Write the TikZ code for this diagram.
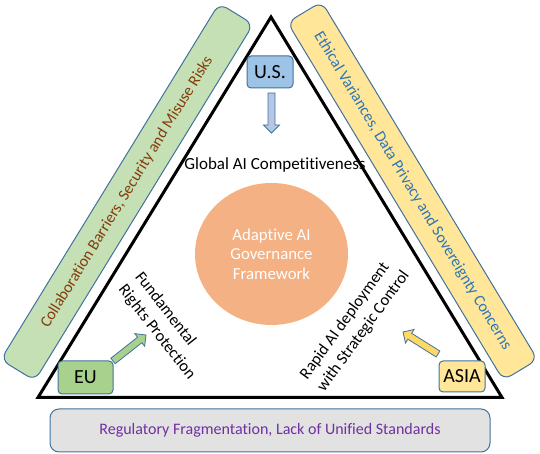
\documentclass[tikz,border=0pt]{standalone}
\usepackage{fontspec}
\setmainfont{Carlito}[Ligatures={NoCommon}]
\usetikzlibrary{calc,shapes.geometric}
\definecolor{bord}{HTML}{41719C}
\definecolor{gfill}{HTML}{C5E0B4}
\definecolor{yfill}{HTML}{FFE699}
\definecolor{grfill}{HTML}{E2E2E2}
\definecolor{gtext}{HTML}{843C0C}
\definecolor{ytext}{HTML}{2E75B6}
\definecolor{ptext}{HTML}{7030A0}
\definecolor{usfill}{HTML}{9DC3E6}
\definecolor{usarrow}{HTML}{B4C7E7}
\definecolor{eufill}{HTML}{A9D18E}
\definecolor{asfill}{HTML}{FFE699}
\definecolor{asarrow}{HTML}{FFD966}
\definecolor{orangefill}{HTML}{F4B183}
\newcommand\blockarrow[3]{%
  \coordinate (ba-c) at ($(#3)!8pt!(#2)$);
  \draw[barrow,fill=#1] ($(#2)!3.5pt!90:(#3)$) -- ($(ba-c)!3.5pt!90:(#3)$)
    -- ($(ba-c)!8pt!90:(#3)$) -- (#3) -- ($(ba-c)!8pt!-90:(#3)$)
    -- ($(ba-c)!3.5pt!-90:(#3)$) -- ($(#2)!3.5pt!-90:(#3)$) -- cycle;}
\begin{document}
\begin{tikzpicture}[x=1pt,y=1pt,
  band/.style={draw=bord, line width=1pt, rounded corners=9pt, minimum width=418pt,
    minimum height=40pt, inner sep=0pt, font=\fontsize{16}{19}\selectfont},
  box/.style={draw=bord, line width=1pt, rounded corners=4pt, inner sep=0pt,
    font=\fontsize{20}{24}\selectfont},
  lbl/.style={font=\fontsize{16.5}{21}\selectfont, inner sep=0pt},
  barrow/.style={draw=bord, line width=0.8pt, line join=miter}]
\useasboundingbox (0,0) rectangle (540,454);
% side bands
\node[band, fill=gfill, text=gtext, rotate=58.5] (gband) at (127,262)
  {Collaboration Barriers, Security and Misuse Risks};
\node[band, fill=yfill, text=ytext, rotate=-58.9] (yband) at (412.5,263)
  {Ethical Variances, Data Privacy and Sovereignty Concerns};
\node[band, fill=grfill, text=ptext, minimum width=440pt, minimum height=43pt] (gray) at (270,23.5)
  {Regulatory Fragmentation, Lack of Unified Standards};
% triangle
\coordinate (tA) at (271,437);
\coordinate (tB) at (38,56.5);
\coordinate (tC) at (502,56.5);
\draw[line width=3pt, line join=miter] (tA) -- (tB) -- (tC) -- cycle;
% center
\node[ellipse, fill=orangefill, minimum width=153pt, minimum height=142pt, inner sep=0pt,
  text=white, align=center, font=\fontsize{16.8}{19.5}\selectfont] (core) at (271.5,200)
  {Adaptive AI\\Governance\\Framework};
% labels
\node[lbl, anchor=base, font=\fontsize{17}{20}\selectfont] (glob) at (275,284) {Global AI Competitiveness};
\node[lbl, rotate=-52, align=left] (fund) at (165,128) {Fundamental\\Rights Protection};
\node[lbl, rotate=54, align=left] (rapid) at (355,129) {Rapid AI deployment\\with Strategic Control};
% boxes
\node[box, fill=usfill, minimum width=46pt, minimum height=32pt] (us) at (270,382) {U.S.};
\node[box, fill=eufill, minimum width=55pt, minimum height=33pt] (eu) at (85.5,76.5) {EU};
\node[box, fill=asfill, minimum width=46pt, minimum height=31pt] (asia) at (462,77.5) {ASIA};
% arrows
\coordinate (usT) at (271.5,361);
\coordinate (usH) at (271.5,321);
\coordinate (euT) at (113,93);
\coordinate (euH) at (146,119);
\coordinate (asT) at (438,100);
\coordinate (asH) at (403,122);
\blockarrow{usarrow}{usT}{usH}
\blockarrow{eufill}{euT}{euH}
\blockarrow{asarrow}{asT}{asH}
\end{tikzpicture}
\end{document}
